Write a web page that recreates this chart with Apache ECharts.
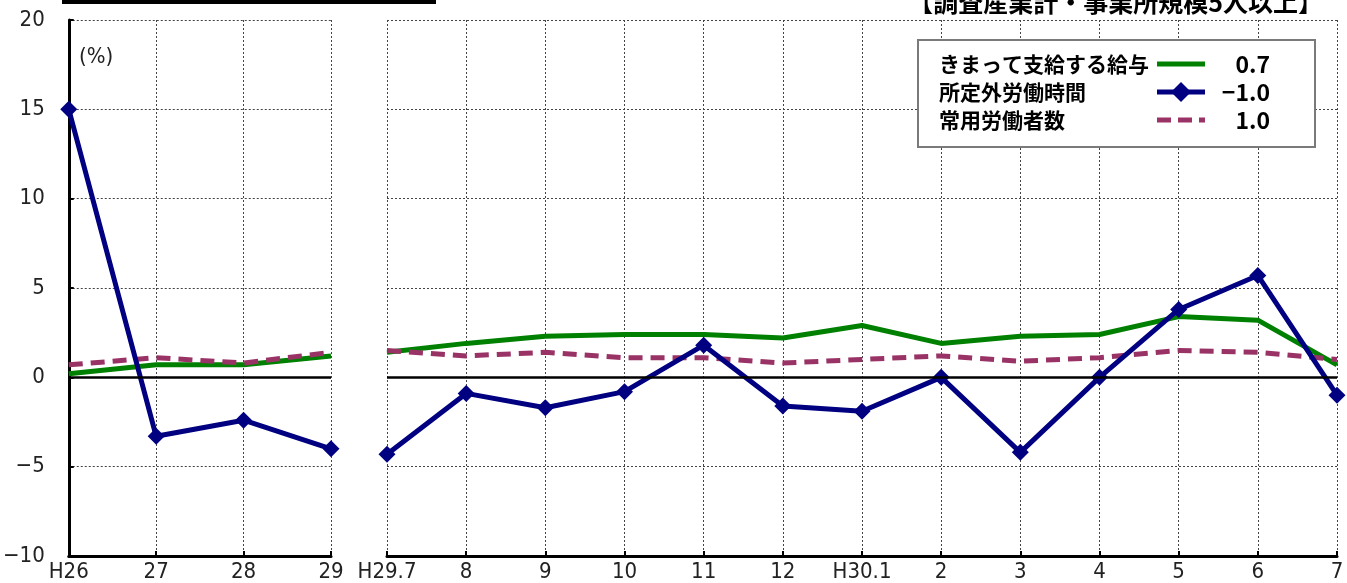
<!DOCTYPE html>
<html>
<head>
<meta charset="utf-8">
<script src="https://cdn.jsdelivr.net/npm/echarts@6/dist/echarts.min.js"></script>
<style>html,body{margin:0;padding:0;background:#fff}#c{width:1347px;height:583px}</style>
</head>
<body>
<div id="c"></div>
<script>
// ---- data ----
var leftCats = ['H26', '27', '28', '29'];
var rightCats = ['H29.7', '8', '9', '10', '11', '12', 'H30.1', '2', '3', '4', '5', '6', '7'];
var wageLeft = [0.2, 0.7, 0.7, 1.2];
var hoursLeft = [15.0, -3.3, -2.4, -4.0];
var empLeft = [0.7, 1.1, 0.8, 1.4];
var wageRight = [1.4, 1.9, 2.3, 2.4, 2.4, 2.2, 2.9, 1.9, 2.3, 2.4, 3.4, 3.2, 0.7];
var hoursRight = [-4.3, -0.9, -1.7, -0.8, 1.8, -1.6, -1.9, 0.0, -4.2, 0.0, 3.8, 5.7, -1.0];
var empRight = [1.5, 1.2, 1.4, 1.1, 1.1, 0.8, 1.0, 1.2, 0.9, 1.1, 1.5, 1.4, 1.0];
var seriesNames = ['きまって支給する給与', '所定外労働時間', '常用労働者数'];
var titleText = '【調査産業計・事業所規模5人以上】';
var unitText = '(%)';

var GREEN = '#008000', NAVY = '#000080', PLUM = '#993366';
var numFont = '"Liberation Sans Narrow", "DejaVu Sans Condensed", "Liberation Sans", sans-serif';
var jpFont = '"Noto Sans CJK JP", sans-serif';
function fmt(v) { return String(v).replace('-', '\u2212'); }

var gridLine = { show: true, lineStyle: { color: '#444', width: 1, type: [2, 2] } };

function xAx(idx, cats) {
  return {
    type: 'category', gridIndex: idx, data: cats, boundaryGap: false,
    axisLine: { show: true, onZero: false, lineStyle: { color: '#000', width: 3 } },
    axisTick: { show: true, inside: true, length: 5, lineStyle: { color: '#000', width: 2 } },
    axisLabel: { color: '#222', fontSize: 22, fontFamily: numFont, margin: 5 },
    splitLine: gridLine
  };
}
function yAx(idx, showAxis) {
  return {
    type: 'value', gridIndex: idx, min: -10, max: 20, interval: 5,
    axisLine: { show: showAxis, lineStyle: { color: '#000', width: 3 } },
    axisTick: { show: showAxis, inside: true, length: 5, lineStyle: { color: '#000', width: 2 } },
    axisLabel: { show: showAxis, color: '#222', fontSize: 22, fontFamily: numFont, margin: 24, formatter: fmt },
    splitLine: gridLine
  };
}
function lineSeries(name, data, idx, color, extra) {
  var s = {
    name: name, type: 'line', xAxisIndex: idx, yAxisIndex: idx, data: data,
    showSymbol: false, symbol: 'none', animation: false,
    lineStyle: { color: color, width: 5 }, itemStyle: { color: color }
  };
  for (var k in extra) s[k] = extra[k];
  return s;
}
var zeroMark = {
  silent: true, symbol: 'none', label: { show: false },
  lineStyle: { color: '#000', width: 2.5, type: 'solid' },
  data: [{ yAxis: 0 }]
};

var series = [];
[[0, wageLeft, hoursLeft, empLeft], [1, wageRight, hoursRight, empRight]].forEach(function (p) {
  var i = p[0];
  series.push(lineSeries(seriesNames[0], p[1], i, GREEN, { markLine: zeroMark, z: 2 }));
  series.push(lineSeries(seriesNames[2], p[3], i, PLUM, { lineStyle: { color: PLUM, width: 5, type: [14, 8] }, z: 3 }));
  series.push(lineSeries(seriesNames[1], p[2], i, NAVY, { showSymbol: true, symbol: 'diamond', symbolSize: 17, z: 4 }));
});

var legendVals = [wageRight[wageRight.length - 1], hoursRight[hoursRight.length - 1], empRight[empRight.length - 1]];
var rowsY = [64, 92, 120];
var legendGraphics = [
  { type: 'rect', z: 100, shape: { x: 918, y: 40, width: 397, height: 107 },
    style: { fill: '#fff', stroke: '#7a7a7a', lineWidth: 2 } }
];
seriesNames.forEach(function (n, i) {
  legendGraphics.push({ type: 'text', z: 101, x: 939, y: rowsY[i],
    style: { text: n, font: 'bold 21px ' + jpFont, fill: '#000', textVerticalAlign: 'middle' } });
  legendGraphics.push({ type: 'text', z: 101, x: 1270, y: rowsY[i],
    style: { text: fmt(legendVals[i].toFixed(1)), font: 'bold 23px ' + jpFont, fill: '#000', textAlign: 'right', textVerticalAlign: 'middle' } });
});
legendGraphics.push({ type: 'line', z: 101, shape: { x1: 1157, y1: rowsY[0], x2: 1205, y2: rowsY[0] }, style: { stroke: GREEN, lineWidth: 5 } });
legendGraphics.push({ type: 'line', z: 101, shape: { x1: 1157, y1: rowsY[1], x2: 1205, y2: rowsY[1] }, style: { stroke: NAVY, lineWidth: 5 } });
legendGraphics.push({ type: 'polygon', z: 102, shape: { points: [[1181, rowsY[1] - 10], [1191, rowsY[1]], [1181, rowsY[1] + 10], [1171, rowsY[1]]] }, style: { fill: NAVY } });
legendGraphics.push({ type: 'line', z: 101, shape: { x1: 1157, y1: rowsY[2], x2: 1205, y2: rowsY[2] }, style: { stroke: PLUM, lineWidth: 5, lineDash: [14, 7] } });

var option = {
  animation: false,
  backgroundColor: '#fff',
  grid: [
    { left: 66, right: 1347 - 331, top: 20, bottom: 24, containLabel: false },
    { left: 387, right: 10, top: 20, bottom: 24, containLabel: false }
  ],
  xAxis: [xAx(0, leftCats), xAx(1, rightCats)],
  yAxis: [yAx(0, true), yAx(1, false)],
  series: series,
  graphic: [
    { type: 'rect', z: 100, shape: { x: 62, y: 0, width: 374, height: 4 }, style: { fill: '#000' } },
    { type: 'text', z: 100, x: 1323, y: 2, style: { text: titleText, font: 'bold 25px ' + jpFont, fill: '#000', textAlign: 'right', textVerticalAlign: 'middle' } },
    { type: 'text', z: 100, x: 79, y: 57, style: { text: unitText, font: '22px ' + numFont, fill: '#222', textVerticalAlign: 'middle' } }
  ].concat(legendGraphics)
};
var chart = echarts.init(document.getElementById('c'), null, { renderer: 'canvas' });
chart.setOption(option);
</script>
</body>
</html>
